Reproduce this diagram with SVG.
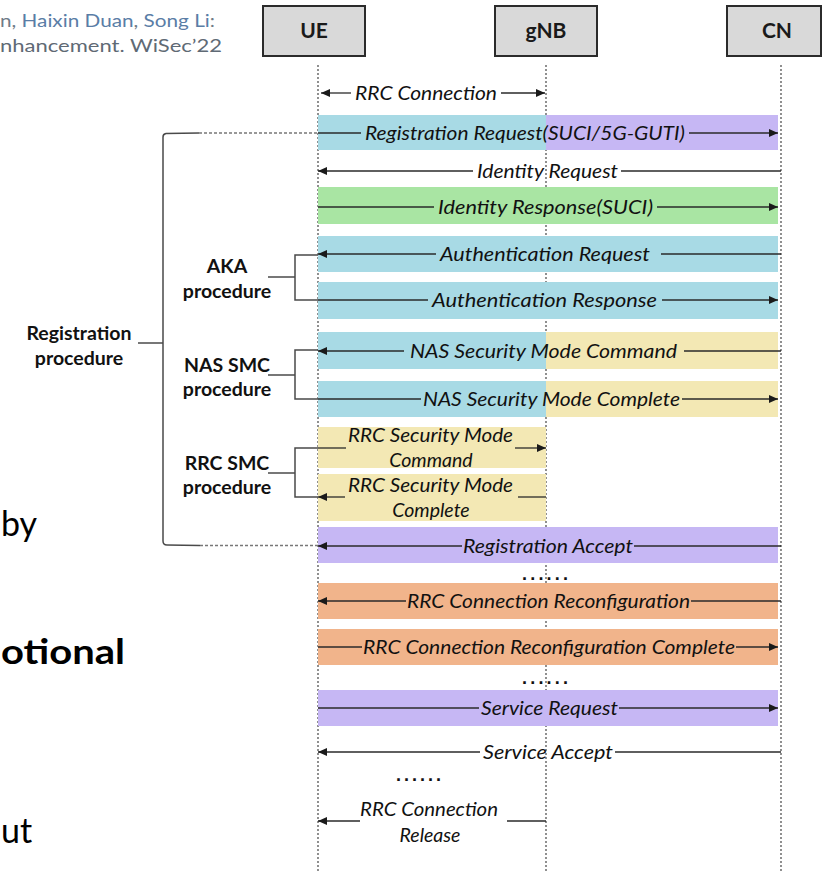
<svg xmlns="http://www.w3.org/2000/svg" width="823" height="873" viewBox="0 0 823 873">
  <defs>
    <marker id="head" markerUnits="userSpaceOnUse" markerWidth="10" markerHeight="8" refX="9" refY="4" orient="auto">
      <path d="M0,0 L9,4 L0,8 z" fill="#1a1a1a"/>
    </marker>
    <style>
      .hdr { fill: #d9d9d9; stroke: #2b2b2b; stroke-width: 2; }
      .hdrText { font-family: Lato, "Liberation Sans", sans-serif; font-weight: bold; font-size: 21px; fill: #1a1a1a; text-anchor: middle; }
      .life { stroke: #555; stroke-width: 1.3; stroke-dasharray: 2 2; fill: none; }
      .msg { font-family: Lato, "Liberation Sans", sans-serif; font-style: italic; font-size: 19.5px; fill: #111; }
      .mid { text-anchor: middle; }
      .ln { stroke: #2a2a2a; stroke-width: 1.3; fill: none; }
      .arr { marker-end: url(#head); }
      .cyan { fill: #a8dae5; }
      .purple { fill: #c6b7f4; }
      .green { fill: #a9e5a3; }
      .yellow { fill: #f3e8b4; }
      .orange { fill: #f1b48b; }
      .brace { stroke: #4a4a4a; stroke-width: 1.5; fill: none; }
      .guide { stroke: #777; stroke-width: 1.3; stroke-dasharray: 3 2; fill: none; }
      .proc { font-family: Lato, "Liberation Sans", sans-serif; font-weight: bold; font-size: 19.5px; fill: #111; text-anchor: middle; }
      .dots { font-family: "Liberation Sans", sans-serif; font-weight: bold; font-size: 18px; fill: #111; }
      .cite { font-family: Lato, "Liberation Sans", sans-serif; font-size: 17px; }
      .big { font-family: Lato, "Liberation Sans", sans-serif; font-size: 34px; fill: #000; }
    </style>
  </defs>

  <rect width="823" height="873" fill="#ffffff"/>

  <!-- citation fragment, top left -->
  <g id="citation">
    <text class="cite" x="0" y="27" textLength="215" lengthAdjust="spacingAndGlyphs"><tspan fill="#6f7b87">n, </tspan><tspan fill="#5a7da6">Haixin Duan</tspan><tspan fill="#6f7b87">, </tspan><tspan fill="#5a7da6">Song Li</tspan><tspan fill="#6f7b87">:</tspan></text>
    <text class="cite" x="0" y="52" fill="#5f6a75" textLength="222" lengthAdjust="spacingAndGlyphs">nhancement. WiSec’22</text>
  </g>

  <!-- slide body text beside the figure -->
  <g id="side-text">
    <text class="big" x="1" y="536">by</text>
    <text class="big" x="1" y="664" font-weight="bold" textLength="124" lengthAdjust="spacingAndGlyphs">otional</text>
    <text class="big" x="1" y="843">ut</text>
  </g>

  <!-- lifelines -->
  <g id="lifelines">
    <line class="life" x1="318" y1="65" x2="318" y2="873"/>
    <line class="life" x1="546" y1="65" x2="546" y2="873"/>
    <line class="life" x1="781" y1="65" x2="781" y2="873"/>
  </g>

  <!-- participants -->
  <g id="UE">
    <rect class="hdr" x="263" y="6" width="102" height="50"/>
    <text class="hdrText" x="314" y="38">UE</text>
  </g>
  <g id="gNB">
    <rect class="hdr" x="495" y="6" width="102" height="50"/>
    <text class="hdrText" x="546" y="38">gNB</text>
  </g>
  <g id="CN">
    <rect class="hdr" x="727" y="6" width="94" height="50"/>
    <text class="hdrText" x="777" y="38">CN</text>
  </g>

  <!-- coloured message bands -->
  <g id="bands">
    <rect class="cyan" x="318" y="115" width="228" height="35"/>
    <rect class="purple" x="546" y="115" width="232" height="35"/>
    <rect class="green" x="318" y="187" width="460" height="37"/>
    <rect class="cyan" x="318" y="236" width="460" height="36"/>
    <rect class="cyan" x="318" y="282" width="460" height="37"/>
    <rect class="cyan" x="318" y="332" width="228" height="37"/>
    <rect class="yellow" x="546" y="332" width="232" height="37"/>
    <rect class="cyan" x="318" y="381" width="228" height="36"/>
    <rect class="yellow" x="546" y="381" width="232" height="36"/>
    <rect class="yellow" x="318" y="427" width="228" height="41"/>
    <rect class="yellow" x="318" y="474" width="228" height="47"/>
    <rect class="purple" x="318" y="527" width="460" height="36"/>
    <rect class="orange" x="318" y="583" width="460" height="36"/>
    <rect class="orange" x="318" y="629" width="460" height="36"/>
    <rect class="purple" x="318" y="690" width="460" height="36"/>
  </g>

  <!-- procedure brackets -->
  <g id="registration-procedure">
    <path class="brace" d="M199,133 L166,133.5 Q163,134 163,137 L163,541 Q163,545 167,545 L200,545.5"/>
    <line class="brace" x1="138" y1="343" x2="163" y2="343"/>
    <line class="guide" x1="199" y1="133" x2="318" y2="133"/>
    <line class="guide" x1="200" y1="545.5" x2="318" y2="545.5"/>
    <text class="proc" x="79" y="340">Registration</text>
    <text class="proc" x="79" y="365">procedure</text>
  </g>
  <g id="aka-procedure">
    <path class="brace" d="M318,255 L295,255 L295,300 L318,300"/>
    <line class="brace" x1="268" y1="277" x2="295" y2="277"/>
    <text class="proc" x="227" y="273">AKA</text>
    <text class="proc" x="227" y="298">procedure</text>
  </g>
  <g id="nas-smc-procedure">
    <path class="brace" d="M318,350 L295,350 L295,399 L318,399"/>
    <line class="brace" x1="268" y1="375" x2="295" y2="375"/>
    <text class="proc" x="227" y="372">NAS SMC</text>
    <text class="proc" x="227" y="396">procedure</text>
  </g>
  <g id="rrc-smc-procedure">
    <path class="brace" d="M318,448 L295,448 L295,497 L318,497"/>
    <line class="brace" x1="268" y1="473" x2="295" y2="473"/>
    <text class="proc" x="227" y="470">RRC SMC</text>
    <text class="proc" x="227" y="494">procedure</text>
  </g>

  <!-- message arrows -->
  <g id="connectors">
    <line class="ln arr" x1="351" y1="93" x2="321" y2="93"/>
    <line class="ln arr" x1="501" y1="93" x2="545" y2="93"/>

    <line class="ln" x1="318" y1="133" x2="361" y2="133"/>
    <line class="ln arr" x1="689" y1="133" x2="778" y2="133"/>

    <line class="ln arr" x1="473" y1="171" x2="318" y2="171"/>
    <line class="ln" x1="621" y1="171" x2="781" y2="171"/>

    <line class="ln" x1="318" y1="207" x2="434" y2="207"/>
    <line class="ln arr" x1="657" y1="207" x2="778" y2="207"/>

    <line class="ln arr" x1="436" y1="254" x2="318" y2="254"/>
    <line class="ln" x1="661" y1="254" x2="781" y2="254"/>

    <line class="ln" x1="318" y1="300" x2="428" y2="300"/>
    <line class="ln arr" x1="662" y1="300" x2="778" y2="300"/>

    <line class="ln arr" x1="404" y1="351" x2="318" y2="351"/>
    <line class="ln" x1="684" y1="351" x2="781" y2="351"/>

    <line class="ln" x1="318" y1="399" x2="421" y2="399"/>
    <line class="ln arr" x1="682" y1="399" x2="778" y2="399"/>

    <line class="ln" x1="318" y1="448" x2="346" y2="448"/>
    <line class="ln arr" x1="515" y1="448" x2="546" y2="448"/>

    <line class="ln arr" x1="345" y1="497" x2="318" y2="497"/>
    <line class="ln" x1="518" y1="497" x2="546" y2="497"/>

    <line class="ln arr" x1="462" y1="546" x2="318" y2="546"/>
    <line class="ln" x1="634" y1="546" x2="781" y2="546"/>

    <line class="ln arr" x1="406" y1="601" x2="318" y2="601"/>
    <line class="ln" x1="691" y1="601" x2="781" y2="601"/>

    <line class="ln" x1="318" y1="647" x2="362" y2="647"/>
    <line class="ln arr" x1="736" y1="647" x2="778" y2="647"/>

    <line class="ln" x1="318" y1="708" x2="479" y2="708"/>
    <line class="ln arr" x1="619" y1="708" x2="778" y2="708"/>

    <line class="ln arr" x1="480" y1="752" x2="318" y2="752"/>
    <line class="ln" x1="615" y1="752" x2="781" y2="752"/>

    <line class="ln arr" x1="360" y1="821" x2="318" y2="821"/>
    <line class="ln" x1="507" y1="821" x2="546" y2="821"/>
  </g>

  <!-- message labels -->
  <g id="labels">
    <text class="msg" x="355" y="100" textLength="142" lengthAdjust="spacingAndGlyphs">RRC Connection</text>
    <text class="msg" x="365" y="140" textLength="320" lengthAdjust="spacingAndGlyphs">Registration Request(SUCI/5G-GUTI)</text>
    <text class="msg" x="477" y="178" textLength="141" lengthAdjust="spacingAndGlyphs">Identity Request</text>
    <text class="msg" x="438" y="214" textLength="215" lengthAdjust="spacingAndGlyphs">Identity Response(SUCI)</text>
    <text class="msg" x="440" y="261" textLength="210" lengthAdjust="spacingAndGlyphs">Authentication Request</text>
    <text class="msg" x="432" y="307" textLength="225" lengthAdjust="spacingAndGlyphs">Authentication Response</text>
    <text class="msg" x="410" y="358" textLength="267" lengthAdjust="spacingAndGlyphs">NAS Security Mode Command</text>
    <text class="msg" x="423" y="406" textLength="257" lengthAdjust="spacingAndGlyphs">NAS Security Mode Complete</text>
    <text class="msg" x="348" y="442" textLength="165" lengthAdjust="spacingAndGlyphs">RRC Security Mode</text>
    <text class="msg mid" x="431" y="467">Command</text>
    <text class="msg" x="348" y="492" textLength="165" lengthAdjust="spacingAndGlyphs">RRC Security Mode</text>
    <text class="msg mid" x="431" y="517">Complete</text>
    <text class="msg" x="463" y="553" textLength="170" lengthAdjust="spacingAndGlyphs">Registration Accept</text>
    <text class="msg" x="407" y="608" textLength="283" lengthAdjust="spacingAndGlyphs">RRC Connection Reconfiguration</text>
    <text class="msg" x="363" y="654" textLength="372" lengthAdjust="spacingAndGlyphs">RRC Connection Reconfiguration Complete</text>
    <text class="msg" x="481" y="715" textLength="137" lengthAdjust="spacingAndGlyphs">Service Request</text>
    <text class="msg" x="483" y="759" textLength="130" lengthAdjust="spacingAndGlyphs">Service Accept</text>
    <text class="msg" x="360" y="816" textLength="138" lengthAdjust="spacingAndGlyphs">RRC Connection</text>
    <text class="msg mid" x="430" y="842">Release</text>
  </g>

  <!-- ellipsis marks -->
  <g id="ellipses">
    <text class="dots" x="522" y="580" textLength="46" lengthAdjust="spacing">......</text>
    <text class="dots" x="522" y="684" textLength="46" lengthAdjust="spacing">......</text>
    <text class="dots" x="396" y="781" textLength="45" lengthAdjust="spacing">......</text>
  </g>
</svg>
